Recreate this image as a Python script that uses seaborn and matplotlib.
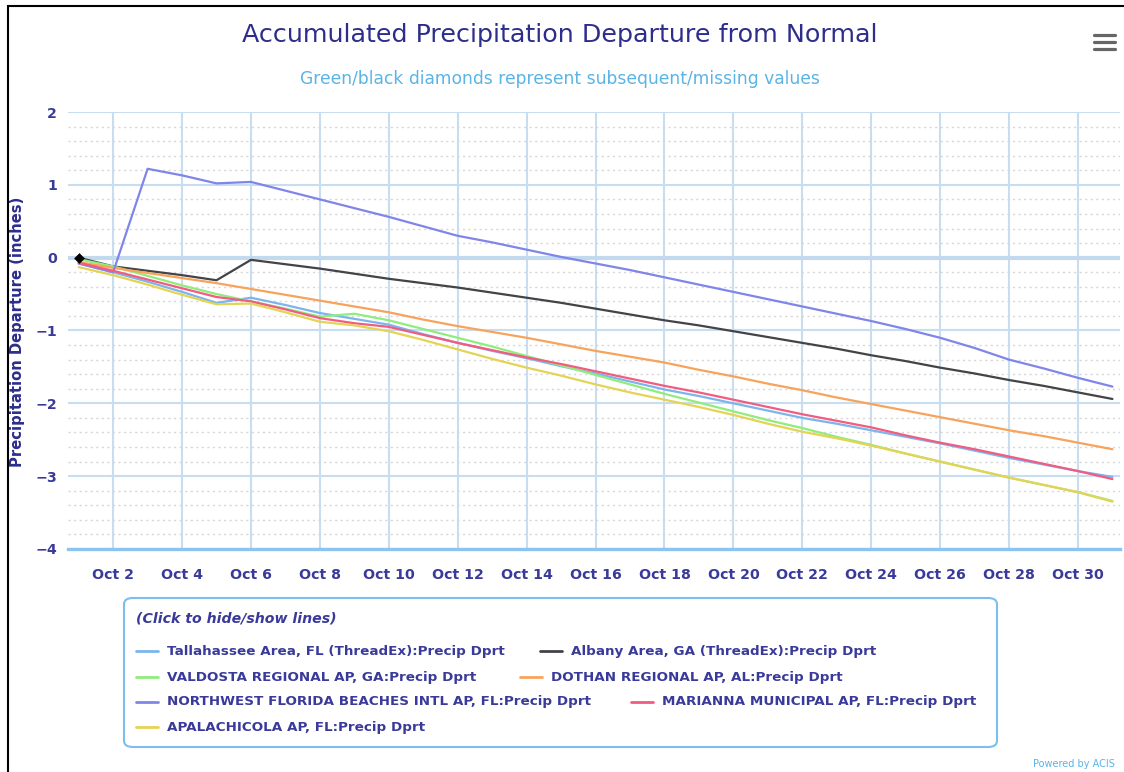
import matplotlib
matplotlib.use('agg')
import matplotlib.pyplot as plt
from matplotlib.lines import Line2D
from matplotlib.patches import FancyBboxPatch, Rectangle
from matplotlib.ticker import MultipleLocator
import seaborn as sns
import pandas as pd

# days of October
days = list(range(1, 32))

stations = [
    "Tallahassee Area, FL (ThreadEx):Precip Dprt",
    "Albany Area, GA (ThreadEx):Precip Dprt",
    "VALDOSTA REGIONAL AP, GA:Precip Dprt",
    "DOTHAN REGIONAL AP, AL:Precip Dprt",
    "NORTHWEST FLORIDA BEACHES INTL AP, FL:Precip Dprt",
    "MARIANNA MUNICIPAL AP, FL:Precip Dprt",
    "APALACHICOLA AP, FL:Precip Dprt",
]
colors = ["#7cb5ec", "#434348", "#90ed7d", "#f7a35c", "#8085e9", "#f15c80", "#e4d354"]

tallahassee = [-0.08, -0.20, -0.33, -0.47, -0.62, -0.55, -0.65, -0.76, -0.84, -0.92, -1.05,
               -1.17, -1.28, -1.38, -1.49, -1.59, -1.70, -1.81, -1.90, -2.00, -2.10, -2.20,
               -2.28, -2.37, -2.46, -2.55, -2.65, -2.75, -2.84, -2.93, -3.01]
albany = [0.00, -0.12, -0.18, -0.24, -0.31, -0.03, -0.09, -0.15, -0.22, -0.29, -0.35,
          -0.41, -0.48, -0.55, -0.62, -0.70, -0.78, -0.86, -0.93, -1.01, -1.09, -1.17,
          -1.25, -1.34, -1.42, -1.51, -1.59, -1.68, -1.76, -1.85, -1.94]
valdosta = [-0.02, -0.12, -0.25, -0.38, -0.50, -0.60, -0.70, -0.81, -0.77, -0.86, -0.98,
            -1.10, -1.22, -1.35, -1.48, -1.61, -1.74, -1.87, -1.99, -2.11, -2.23, -2.34,
            -2.46, -2.57, -2.69, -2.80, -2.91, -3.02, -3.12, -3.22, -3.34]
dothan = [-0.06, -0.14, -0.21, -0.28, -0.35, -0.43, -0.51, -0.59, -0.67, -0.75, -0.85,
          -0.94, -1.02, -1.10, -1.19, -1.28, -1.36, -1.44, -1.54, -1.63, -1.73, -1.82,
          -1.92, -2.01, -2.10, -2.19, -2.28, -2.37, -2.45, -2.54, -2.63]
nw_florida = [-0.08, -0.20, 1.22, 1.13, 1.02, 1.04, 0.92, 0.80, 0.68, 0.56, 0.43,
              0.30, 0.21, 0.11, 0.01, -0.08, -0.17, -0.27, -0.37, -0.47, -0.57, -0.67,
              -0.77, -0.87, -0.98, -1.10, -1.24, -1.40, -1.52, -1.65, -1.77]
marianna = [-0.07, -0.18, -0.30, -0.42, -0.54, -0.60, -0.71, -0.83, -0.90, -0.95, -1.06,
            -1.17, -1.27, -1.37, -1.46, -1.56, -1.66, -1.76, -1.85, -1.95, -2.05, -2.15,
            -2.24, -2.33, -2.44, -2.54, -2.63, -2.73, -2.83, -2.93, -3.04]
apalachicola = [-0.13, -0.24, -0.37, -0.51, -0.64, -0.63, -0.75, -0.88, -0.93, -1.01, -1.13,
                -1.26, -1.39, -1.51, -1.62, -1.74, -1.85, -1.95, -2.05, -2.16, -2.28, -2.39,
                -2.48, -2.58, -2.69, -2.80, -2.91, -3.02, -3.12, -3.22, -3.35]

diamond_day = [1]
diamond_val = [0.0]

tick_days = list(range(2, 31, 2))
tick_labels = ["Oct %d" % d for d in tick_days]

series = [tallahassee, albany, valdosta, dothan, nw_florida, marianna, apalachicola]
frames = []
for name, vals in zip(stations, series):
    frames.append(pd.DataFrame({"day": days, "dprt": vals, "station": name}))
df = pd.concat(frames, ignore_index=True)

sns.set_style("white")
plt.rcParams['font.family'] = ['DejaVu Sans']

W, H = 1124, 772
fig = plt.figure(figsize=(W / 100, H / 100), dpi=100)

def fx(px):
    return px / W

def fy(py):
    return 1 - py / H

navy = "#2d2d8c"
label_col = "#3a3a9a"
grid_col = "#c9ddf0"

ax = fig.add_axes([fx(68), fy(549), fx(1120) - fx(68), fy(112) - fy(549)])

# grid
ax.yaxis.set_minor_locator(MultipleLocator(0.2))
ax.grid(which="minor", axis="y", color="#d6d6d6", linestyle=(0, (1.5, 2.5)), linewidth=1)
ax.grid(which="major", axis="both", color=grid_col, linewidth=1.5)
ax.axhline(0, color="#c2d9ee", linewidth=3, zorder=1)

sns.lineplot(data=df, x="day", y="dprt", hue="station", palette=colors,
             hue_order=stations, linewidth=1.6, legend=False, ax=ax, zorder=3)
sns.scatterplot(x=diamond_day, y=diamond_val, marker="D", color="black", s=30,
                ax=ax, zorder=5, linewidth=0)

ax.set_xlim(0.69, 31.22)
ax.set_ylim(-4, 2)
ax.set_yticks([-4, -3, -2, -1, 0, 1, 2])
ax.set_yticklabels(["\u22124", "\u22123", "\u22122", "\u22121", "0", "1", "2"])
ax.set_xticks(tick_days)
ax.set_xticklabels(tick_labels)
ax.set_xlabel("")
ax.set_ylabel("")
for s in ["top", "right", "left"]:
    ax.spines[s].set_visible(False)
ax.spines["bottom"].set_color("#8ec3ef")
ax.spines["bottom"].set_linewidth(2.4)
ax.tick_params(axis="x", which="major", length=8, width=1.5, color=grid_col,
               pad=6, labelsize=10.2, labelcolor=label_col, direction="out")
ax.tick_params(axis="y", which="both", length=0, pad=8, labelsize=10.2, labelcolor=label_col)
for t in ax.get_xticklabels():
    t.set_fontweight("bold")
for t in ax.get_yticklabels():
    t.set_fontweight("bold")

# titles
fig.text(fx(560), fy(35), "Accumulated Precipitation Departure from Normal",
         ha="center", va="center", fontsize=18.3, color=navy)
fig.text(fx(560), fy(79), "Green/black diamonds represent subsequent/missing values",
         ha="center", va="center", fontsize=12.3, color="#5ab4e5")
fig.text(fx(18), fy(332), "Precipitation Departure (inches)", rotation=90,
         ha="center", va="center", fontsize=10.6, fontweight="bold", color=navy)

# legend box
box = FancyBboxPatch((fx(124), fy(747)), fx(997) - fx(124), fy(598) - fy(747),
                     boxstyle="round,pad=0,rounding_size=0.008",
                     transform=fig.transFigure, facecolor="white",
                     edgecolor="#7cbfec", linewidth=1.5)
fig.add_artist(box)
fig.text(fx(136), fy(619), "(Click to hide/show lines)", ha="left", va="center",
         fontsize=10.2, style="italic", fontweight="bold", color=label_col)

legend_pos = [(136, 651), (540, 651), (136, 677), (520, 677),
              (136, 702), (631, 702), (136, 727)]
for (lx, ly), name, c in zip(legend_pos, stations, colors):
    fig.add_artist(Line2D([fx(lx), fx(lx + 22)], [fy(ly), fy(ly)], color=c,
                          linewidth=2, transform=fig.transFigure))
    fig.text(fx(lx + 31), fy(ly), name, ha="left", va="center", fontsize=9.7,
             fontweight="bold", color=label_col)

fig.text(fx(1115), fy(764), "Powered by ACIS", ha="right", va="center",
         fontsize=7, color="#5ab4e5")

# menu icon
for yy in [35, 42, 49]:
    fig.add_artist(Line2D([fx(1094), fx(1115)], [fy(yy), fy(yy)], color="#666666",
                          linewidth=2.3, solid_capstyle="round", transform=fig.transFigure))

# outer frame (left and top edges visible)
fig.add_artist(Rectangle((fx(8), fy(790)), fx(1140) - fx(8), fy(6) - fy(790),
                         transform=fig.transFigure, fill=False,
                         edgecolor="black", linewidth=1.5))

fig.savefig("out.png", dpi=100)
